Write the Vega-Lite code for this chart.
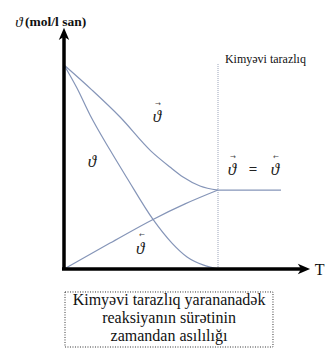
{
  "$schema": "https://vega.github.io/schema/vega-lite/v6.json",
  "width": 327,
  "height": 349,
  "padding": 0,
  "autosize": {"type": "fit", "contains": "padding"},
  "background": "white",
  "config": {"view": {"stroke": null}},
  "datasets": {
    "curves": [
      {"curve": "forward", "t": 0, "v": 10},
      {"curve": "forward", "t": 1.82, "v": 8.77},
      {"curve": "forward", "t": 3.64, "v": 7.45},
      {"curve": "forward", "t": 5.65, "v": 5.78},
      {"curve": "forward", "t": 6.88, "v": 5.0},
      {"curve": "forward", "t": 7.73, "v": 4.51},
      {"curve": "forward", "t": 8.83, "v": 4.07},
      {"curve": "forward", "t": 10, "v": 3.87},
      {"curve": "total", "t": 0, "v": 10},
      {"curve": "total", "t": 0.84, "v": 8.87},
      {"curve": "total", "t": 1.69, "v": 7.55},
      {"curve": "total", "t": 2.99, "v": 5.83},
      {"curve": "total", "t": 4.09, "v": 4.46},
      {"curve": "total", "t": 5.78, "v": 2.43},
      {"curve": "total", "t": 7.01, "v": 1.27},
      {"curve": "total", "t": 7.99, "v": 0.59},
      {"curve": "total", "t": 9.03, "v": 0.2},
      {"curve": "total", "t": 10, "v": 0},
      {"curve": "reverse", "t": 0, "v": 0},
      {"curve": "reverse", "t": 2.99, "v": 1.27},
      {"curve": "reverse", "t": 5.78, "v": 2.43},
      {"curve": "reverse", "t": 7.86, "v": 3.19},
      {"curve": "reverse", "t": 10, "v": 3.87},
      {"curve": "equilibrium", "t": 10, "v": 3.87},
      {"curve": "equilibrium", "t": 14.09, "v": 3.87}
    ],
    "axes": [
      {"axis": "y", "t": 0, "v": -0.05, "t2": 0, "v2": 11.4},
      {"axis": "x", "t": -0.13, "v": 0, "t2": 15.5, "v2": 0}
    ],
    "eqline": [{"t": 10, "v": 0, "v2": 10.05}],
    "greek": [
      {"label": "ϑ", "t": 6.04, "v": 7.45},
      {"label": "ϑ", "t": 1.82, "v": 5.25},
      {"label": "ϑ", "t": 4.94, "v": 1.0},
      {"label": "ϑ", "t": 10.91, "v": 4.85},
      {"label": "ϑ", "t": 13.7, "v": 4.85}
    ],
    "arrows": [
      {"label": "→", "t": 6.1, "v": 8.1},
      {"label": "←", "t": 5.06, "v": 1.66},
      {"label": "→", "t": 10.97, "v": 5.5},
      {"label": "←", "t": 13.77, "v": 5.5}
    ],
    "equals": [{"label": "=", "t": 12.27, "v": 4.92}],
    "box": [{"t": 0.065, "v": -1.127, "t2": 13.57, "v2": -3.824}],
    "boxtext": [
      {"label": "Kimyəvi  tarazlıq yarananadək", "t": 6.82, "v": -1.52},
      {"label": "reaksiyanın sürətinin", "t": 6.82, "v": -2.4},
      {"label": "zamandan asılılığı", "t": 6.82, "v": -3.28}
    ]
  },
  "encoding": {
    "x": {"field": "t", "type": "quantitative", "scale": {"domain": [-4.156, 17.078], "nice": false, "zero": false}, "axis": null},
    "y": {"field": "v", "type": "quantitative", "scale": {"domain": [-3.922, 13.186], "nice": false, "zero": false}, "axis": null}
  },
  "layer": [
    {
      "data": {"name": "box"},
      "mark": {"type": "rect", "fill": "white", "stroke": "#333333", "strokeWidth": 1, "strokeDash": [1, 1.5]},
      "encoding": {"x2": {"field": "t2"}, "y2": {"field": "v2"}}
    },
    {
      "data": {"name": "boxtext"},
      "mark": {"type": "text", "font": "Liberation Serif", "fontSize": 16, "align": "center", "baseline": "middle", "color": "#111111"},
      "encoding": {"text": {"field": "label"}}
    },
    {
      "data": {"name": "eqline"},
      "mark": {"type": "rule", "color": "#9aa3b8", "strokeWidth": 1, "strokeDash": [1, 1]},
      "encoding": {"y2": {"field": "v2"}}
    },
    {
      "data": {"name": "curves"},
      "mark": {"type": "line", "color": "#8595b8", "strokeWidth": 1.2, "interpolate": "monotone"},
      "encoding": {"detail": {"field": "curve"}}
    },
    {
      "data": {"name": "axes"},
      "mark": {"type": "rule", "color": "#000000", "strokeWidth": 3.5},
      "encoding": {"x2": {"field": "t2"}, "y2": {"field": "v2"}}
    },
    {
      "data": {"values": [{"t": 15.58, "v": 0}]},
      "mark": {"type": "point", "shape": "M1,0 L-1,-0.85 L-0.45,0 L-1,0.85 Z", "size": 150, "filled": true, "color": "#000000", "opacity": 1}
    },
    {
      "data": {"values": [{"t": 0, "v": 11.52}]},
      "mark": {"type": "point", "shape": "M0,-1 L-0.85,1 L0,0.45 L0.85,1 Z", "size": 150, "filled": true, "color": "#000000", "opacity": 1}
    },
    {
      "data": {"name": "greek"},
      "mark": {"type": "text", "font": "Liberation Serif", "fontStyle": "italic", "fontSize": 17, "align": "center", "baseline": "middle", "color": "#222222"},
      "encoding": {"text": {"field": "label"}}
    },
    {
      "data": {"name": "arrows"},
      "mark": {"type": "text", "font": "DejaVu Sans", "fontSize": 7, "align": "center", "baseline": "middle", "color": "#444444"},
      "encoding": {"text": {"field": "label"}}
    },
    {
      "data": {"name": "equals"},
      "mark": {"type": "text", "font": "Liberation Serif", "fontWeight": "bold", "fontSize": 15, "align": "center", "baseline": "middle", "color": "#222222"},
      "encoding": {"text": {"field": "label"}}
    },
    {
      "data": {"values": [{"label": "ϑ", "t": -2.92, "v": 12.11}]},
      "mark": {"type": "text", "font": "Liberation Serif", "fontStyle": "italic", "fontSize": 15, "align": "center", "baseline": "middle", "color": "#111111"},
      "encoding": {"text": {"field": "label"}}
    },
    {
      "data": {"values": [{"label": "(mol/l san)", "t": -2.53, "v": 12.11}]},
      "mark": {"type": "text", "font": "Liberation Serif", "fontWeight": "bold", "fontSize": 13.5, "align": "left", "baseline": "middle", "color": "#111111"},
      "encoding": {"text": {"field": "label"}}
    },
    {
      "data": {"values": [{"label": "Kimyəvi tarazlıq", "t": 10.45, "v": 10.29}]},
      "mark": {"type": "text", "font": "Liberation Serif", "fontSize": 12, "align": "left", "baseline": "middle", "color": "#111111"},
      "encoding": {"text": {"field": "label"}}
    },
    {
      "data": {"values": [{"label": "T", "t": 16.6, "v": -0.05}]},
      "mark": {"type": "text", "font": "Liberation Serif", "fontSize": 16, "align": "center", "baseline": "middle", "color": "#111111"},
      "encoding": {"text": {"field": "label"}}
    }
  ]
}
